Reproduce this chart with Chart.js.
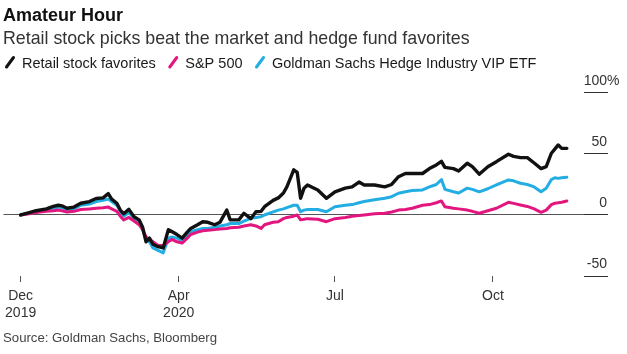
<!DOCTYPE html>
<html>
<head>
<meta charset="utf-8">
<script src="https://cdn.jsdelivr.net/npm/chart.js@4.4.1/dist/chart.umd.min.js"></script>
<style>
  html, body { margin: 0; padding: 0; background: #fff; }
  #wrap { width: 627px; height: 354px; }
</style>
</head>
<body>
<div id="wrap"><canvas id="chart" width="627" height="354"></canvas></div>
<script>
// performance since Dec 31 2019, in percent
const dates = [
  '2019-12-31', '2020-01-05', '2020-01-09', '2020-01-15', '2020-01-19', '2020-01-22', '2020-01-24', '2020-01-27',
  '2020-01-31', '2020-02-04', '2020-02-09', '2020-02-13', '2020-02-17', '2020-02-20', '2020-02-22', '2020-02-25',
  '2020-02-27', '2020-02-29', '2020-03-03', '2020-03-06', '2020-03-09', '2020-03-11', '2020-03-13', '2020-03-15',
  '2020-03-17', '2020-03-20', '2020-03-23', '2020-03-26', '2020-03-28', '2020-03-31', '2020-04-03', '2020-04-06',
  '2020-04-08', '2020-04-12', '2020-04-15', '2020-04-18', '2020-04-22', '2020-04-25', '2020-04-29', '2020-05-01',
  '2020-05-06', '2020-05-09', '2020-05-13', '2020-05-16', '2020-05-19', '2020-05-21', '2020-05-26', '2020-05-29',
  '2020-06-01', '2020-06-03', '2020-06-07', '2020-06-09', '2020-06-11', '2020-06-13', '2020-06-15', '2020-06-21',
  '2020-06-26', '2020-07-01', '2020-07-07', '2020-07-11', '2020-07-15', '2020-07-18', '2020-07-24', '2020-07-30',
  '2020-08-03', '2020-08-07', '2020-08-11', '2020-08-15', '2020-08-21', '2020-08-25', '2020-08-29', '2020-09-01',
  '2020-09-03', '2020-09-08', '2020-09-11', '2020-09-16', '2020-09-19', '2020-09-23', '2020-09-28', '2020-10-03',
  '2020-10-10', '2020-10-13', '2020-10-17', '2020-10-21', '2020-10-25', '2020-10-29', '2020-11-01', '2020-11-04',
  '2020-11-06', '2020-11-08', '2020-11-10', '2020-11-13'
];
const retail = [
  0, 2, 3.5, 5, 7, 8, 7.5, 5.5,
  6.5, 9.6, 11, 13.5, 14, 17.5, 13, 9.6,
  4, 1, 4.6, -1.4, -4, -10, -22, -19,
  -24, -26, -27, -12, -13.5, -16, -19, -14,
  -11, -8, -5.5, -6, -8, -6, 4, -4,
  -4, 1.4, -3, 2.7, 3, 6.8, 12, 14,
  18, 23, 37, 35, 13.7, 22, 24.6, 20.5,
  13.7, 19, 22, 23, 27, 24.6, 24.6, 23,
  25, 31.4, 34, 34, 34, 38, 41, 44,
  39, 38, 36, 42.4, 39.6, 33.4, 39.6, 43.7,
  49.8, 48, 47, 47, 42.6, 38, 39.6, 50.6,
  54, 57.4, 54.6, 54.6
];
const sp500 = [
  0, 1, 2, 3, 3.5, 4, 3.5, 2.5,
  3, 4.5, 5, 5.5, 6, 6.5, 5, 3,
  -1, -4, -2, -5, -8, -12, -18, -20,
  -22, -25, -25, -22, -20, -22, -23, -19,
  -16, -14, -13, -12.5, -12, -11.5, -11, -10.5,
  -10, -9, -8, -9, -11, -8, -6, -5.5,
  -3, -2, -1, 0, -4, -3.5, -3, -3.5,
  -5.5, -3, -2, -1, -0.5, 0, 1, 1.4,
  2.5, 4, 4.5, 5.5, 8, 8.5, 10, 11.5,
  6.8, 5.5, 5, 4, 3, 1.4, 3.5, 5.5,
  10.4, 9.5, 8.2, 7, 5, 2.2, 4, 8.5,
  9.6, 10, 10.5, 11.5
];
const hedge = [
  0, 1.5, 3, 4.5, 5.5, 6.5, 6, 4.5,
  5, 8, 9, 11, 12, 13, 11, 8,
  3, -1, 2, -3, -6, -12, -20, -22,
  -27, -29, -31, -19, -18, -19, -21, -16,
  -13.7, -12, -11, -11, -10, -9, -8, -7,
  -7, -5, -2.7, -2, -1.4, 0, 2.5, 4,
  5, 6, 8, 8, 2.7, 4, 4.5, 4.5,
  2.7, 6.8, 8, 8.5, 10, 11, 12.5, 13.7,
  15, 17.8, 19, 20, 20.5, 23, 25, 29,
  21, 19, 18, 22, 21, 19, 21.5, 24.6,
  28.7, 28, 26, 25, 23, 19, 21.9, 29,
  30.5, 30, 30.5, 31
];
const seriesNames = ['Retail stock favorites', 'S&P 500', 'Goldman Sachs Hedge Industry VIP ETF'];
const seriesColors = ['#111111', '#e3167f', '#22ade3'];
const tickDates = ['2019-12-31', '2020-04-01', '2020-07-01', '2020-10-01'];
const tickLabels = [['Dec', '2019'], ['Apr', '2020'], 'Jul', 'Oct'];
const yTicks = [-50, 0, 50, 100];

const FONT = '"Liberation Sans", Arial, sans-serif';
const startDay = Date.UTC(2019, 11, 31);
function dayOf(s) {
  const [y, m, d] = s.split('-').map(Number);
  return (Date.UTC(y, m - 1, d) - startDay) / 864e5;
}
const days = dates.map(dayOf);
const tickDays = tickDates.map(dayOf);
const toPoints = values => values.map((v, i) => ({ x: days[i], y: v }));

// legend with slanted strokes, drawn above the plot
const slashLegend = {
  id: 'slashLegend',
  afterDraw(chart) {
    const ctx = chart.ctx;
    const baseline = 67.5;
    let x = 5;
    ctx.save();
    ctx.font = '14.5px ' + FONT;
    ctx.textBaseline = 'alphabetic';
    ctx.textAlign = 'left';
    chart.data.datasets.forEach(ds => {
      ctx.strokeStyle = ds.borderColor;
      ctx.lineWidth = 3;
      ctx.lineCap = 'round';
      ctx.beginPath();
      ctx.moveTo(x + 1.5, baseline - 0.5);
      ctx.lineTo(x + 8.5, baseline - 10);
      ctx.stroke();
      ctx.fillStyle = '#1a1a1a';
      ctx.fillText(ds.label, x + 17, baseline);
      x += 17 + ctx.measureText(ds.label).width + 12.5;
    });
    ctx.restore();
  }
};

// value labels sit above the short right-hand tick lines
const yLabels = {
  id: 'yLabels',
  afterDraw(chart) {
    const scale = chart.scales.y;
    const ctx = chart.ctx;
    const right = scale.right - 1;
    ctx.save();
    ctx.font = '14px ' + FONT;
    ctx.fillStyle = '#333';
    ctx.textBaseline = 'alphabetic';
    yTicks.forEach(v => {
      const py = scale.getPixelForValue(v) - 8;
      ctx.textAlign = 'right';
      ctx.fillText(String(v), right, py);
      if (v === yTicks[yTicks.length - 1]) {
        ctx.textAlign = 'left';
        ctx.fillText('%', right, py);
      }
    });
    ctx.font = '13.2px ' + FONT;
    ctx.fillStyle = '#444';
    ctx.textAlign = 'left';
    ctx.fillText('Source: Goldman Sachs, Bloomberg', 3, 342);
    ctx.restore();
  }
};

const ctx = document.getElementById('chart').getContext('2d');
const chart = new Chart(ctx, {
  type: 'line',
  data: {
    datasets: [
      { label: seriesNames[0], data: toPoints(retail), borderColor: seriesColors[0], borderWidth: 3.4 },
      { label: seriesNames[1], data: toPoints(sp500), borderColor: seriesColors[1], borderWidth: 3 },
      { label: seriesNames[2], data: toPoints(hedge), borderColor: seriesColors[2], borderWidth: 3 }
    ]
  },
  options: {
    responsive: false,
    devicePixelRatio: 1,
    animation: false,
    elements: {
      point: { radius: 0 },
      line: { tension: 0, borderJoinStyle: 'round', borderCapStyle: 'round' }
    },
    layout: { padding: { left: 3, right: 19, top: 0, bottom: 27 } },
    plugins: {
      legend: { display: false },
      tooltip: { enabled: false },
      title: {
        display: true,
        text: 'Amateur Hour',
        align: 'start',
        color: '#111',
        font: { family: FONT, size: 18, weight: 'bold', lineHeight: 1.2 },
        padding: { top: 5, bottom: 1.4 }
      },
      subtitle: {
        display: true,
        text: 'Retail stock picks beat the market and hedge fund favorites',
        align: 'start',
        color: '#333',
        font: { family: FONT, size: 17.8, weight: 'normal', lineHeight: 1.2 },
        padding: { top: 0, bottom: 43.6 }
      }
    },
    scales: {
      x: {
        type: 'linear',
        min: -10,
        max: 328,
        border: { display: false },
        grid: { drawOnChartArea: false, drawTicks: true, tickLength: 6, tickColor: '#555' },
        afterBuildTicks: s => { s.ticks = tickDays.map(v => ({ value: v })); },
        ticks: {
          autoSkip: false,
          maxRotation: 0,
          padding: 5,
          color: '#333',
          font: { family: FONT, size: 14, lineHeight: 1.25 },
          callback: v => {
            const i = tickDays.indexOf(v);
            return i >= 0 ? tickLabels[i] : '';
          }
        }
      },
      y: {
        position: 'right',
        min: -50,
        max: 100,
        border: { display: false },
        afterBuildTicks: s => { s.ticks = yTicks.map(v => ({ value: v })); },
        grid: {
          color: c => (c.tick && c.tick.value === 0 ? '#555' : 'rgba(0,0,0,0)'),
          tickColor: '#333',
          tickLength: 24,
          drawTicks: true
        },
        ticks: { display: false }
      }
    }
  },
  plugins: [slashLegend, yLabels]
});
</script>
</body>
</html>
